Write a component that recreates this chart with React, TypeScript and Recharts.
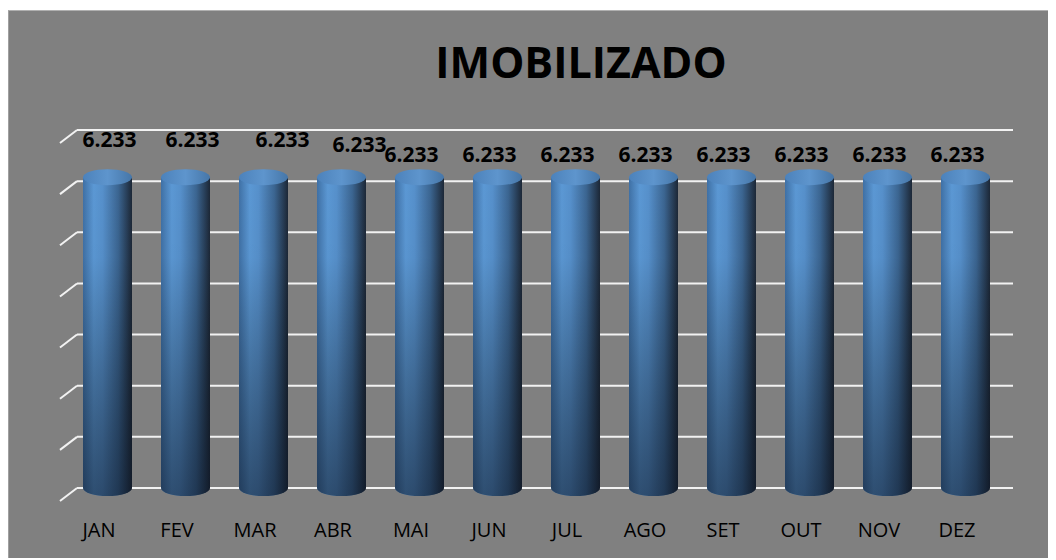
import React from 'react';
import { BarChart, Bar, XAxis, YAxis, CartesianGrid, LabelList } from 'recharts';

// Monthly data
const months = ['JAN', 'FEV', 'MAR', 'ABR', 'MAI', 'JUN', 'JUL', 'AGO', 'SET', 'OUT', 'NOV', 'DEZ'];
const imobilizado = [6233, 6233, 6233, 6233, 6233, 6233, 6233, 6233, 6233, 6233, 6233, 6233];
const yTicks = [0, 1000, 2000, 3000, 4000, 5000, 6000, 7000];

// label nudges the way the spreadsheet placed them (layout only)
const labelNudge: [number, number][] = [
  [10, -15], [15, -15], [27, -15], [26, -10],
  [0, 0], [0, 0], [0, 0], [0, 0], [0, 0], [0, 0], [0, 0], [0, 0],
];

const data = months.map((m, i) => ({ mes: m, valor: imobilizado[i] }));

const fmt = (v: number) => v.toLocaleString('de-DE');

const FONT = '"Open Sans", "Noto Sans", sans-serif';
const FRONT = -8; // front edge of the 3D floor

const Cylinder = (props: any) => {
  const { x, y, width, height } = props;
  const rx = width / 2;
  const ry = 8;
  const top = y + 8;
  const bottom = y + height;
  const body = `M${x},${top} L${x},${bottom} A${rx},${ry} 0 0 0 ${x + width},${bottom} L${x + width},${top} Z`;
  return (
    <g>
      <path d={body} fill="url(#cylSide)" />
      <path d={body} fill="url(#cylShade)" />
      <ellipse cx={x + rx} cy={top} rx={rx} ry={ry} fill="url(#cylTop)" />
    </g>
  );
};

const GridLine = (props: any) => {
  const { x1, x2, y1, index } = props;
  return (
    <g key={`g-${index}`}>
      <line x1={x1 - 8} y1={y1 + 13} x2={x1 + 9} y2={y1} stroke="#f2f2f2" strokeWidth={2} />
      <line x1={x1 + 9} y1={y1} x2={x2 + 9} y2={y1} stroke="#f2f2f2" strokeWidth={2} />
    </g>
  );
};

const MonthTick = (props: any) => {
  const { x, y, payload } = props;
  return (
    <text x={x + FRONT} y={y + 49} textAnchor="middle" fontFamily={FONT} fontSize={20} fill="#000">
      {payload.value}
    </text>
  );
};

const ValueLabel = (props: any) => {
  const { x, y, width, value, index } = props;
  const [dx, dy] = labelNudge[index] || [0, 0];
  return (
    <text
      x={x + width / 2 + FRONT + dx}
      y={y - 7 + dy}
      textAnchor="middle"
      fontFamily={FONT}
      fontWeight="bold"
      fontSize={21}
      fill="#000"
    >
      {fmt(value)}
    </text>
  );
};

export default function App() {
  return (
    <div
      style={{
        position: 'relative',
        top: 2,
        width: 1048,
        height: 550,
        background: '#808080',
        borderTop: '1px solid #b0b0b0',
        borderLeft: '1px solid #a0a0a0',
        boxSizing: 'border-box',
      }}
    >
      <div
        style={{
          position: 'absolute',
          left: 96,
          width: 952,
          top: 29,
          textAlign: 'center',
          fontFamily: FONT,
          fontWeight: 'bold',
          fontSize: 43,
          lineHeight: 1,
          color: '#000',
        }}
      >
        IMOBILIZADO
      </div>
      <div style={{ position: 'absolute', left: -1, top: -1 }}>
        <BarChart
          width={1048}
          height={550}
          data={data}
          margin={{ top: 120, right: 52, bottom: 32, left: 60 }}
          barSize={49}
        >
          <defs>
            <linearGradient id="cylSide" x1="0" y1="0" x2="1" y2="0">
              <stop offset="0%" stopColor="#3f70a5" />
              <stop offset="22%" stopColor="#5b98d4" />
              <stop offset="40%" stopColor="#5690cb" />
              <stop offset="72%" stopColor="#3b6591" />
              <stop offset="100%" stopColor="#1c2736" />
            </linearGradient>
            <linearGradient id="cylShade" x1="0" y1="0" x2="0" y2="1">
              <stop offset="0%" stopColor="#000" stopOpacity={0} />
              <stop offset="25%" stopColor="#000" stopOpacity={0.02} />
              <stop offset="100%" stopColor="#0a1220" stopOpacity={0.55} />
            </linearGradient>
            <linearGradient id="cylTop" x1="0" y1="0" x2="1" y2="0">
              <stop offset="0%" stopColor="#4c82bb" />
              <stop offset="50%" stopColor="#5e95cd" />
              <stop offset="100%" stopColor="#4676a8" />
            </linearGradient>
          </defs>
          <CartesianGrid vertical={false} horizontal={GridLine as any} />
          <XAxis
            dataKey="mes"
            axisLine={false}
            tickLine={false}
            tickSize={0}
            tickMargin={0}
            height={40}
            interval={0}
            tick={<MonthTick />}
          />
          <YAxis hide domain={[0, 7000]} ticks={yTicks} />
          <Bar dataKey="valor" shape={<Cylinder />} isAnimationActive={false}>
            <LabelList dataKey="valor" content={<ValueLabel />} />
          </Bar>
        </BarChart>
      </div>
    </div>
  );
}
